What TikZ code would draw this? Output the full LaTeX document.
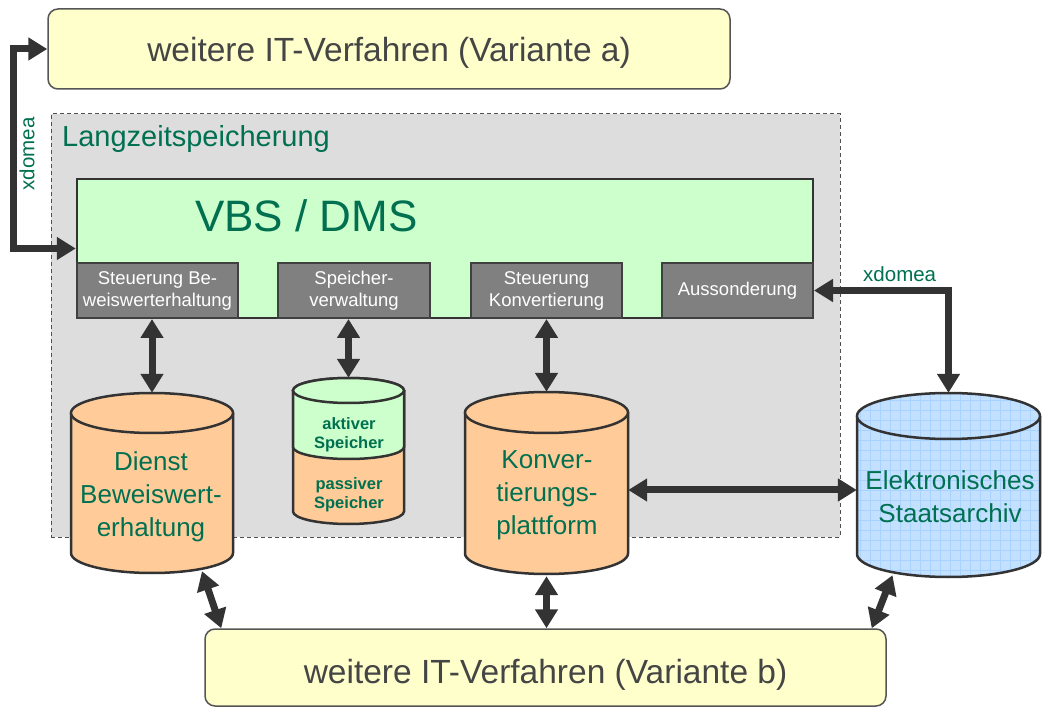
\documentclass[tikz,border=0pt]{standalone}
\usepackage{fontspec}
\setmainfont{Liberation Sans}
\usetikzlibrary{arrows.meta,calc}
\definecolor{txtgreen}{HTML}{007050}
\definecolor{txtgray}{HTML}{454545}
\definecolor{edgegray}{HTML}{555555}
\definecolor{yel}{HTML}{FFFFCC}
\definecolor{bggray}{HTML}{DDDDDD}
\definecolor{dashgray}{HTML}{505050}
\definecolor{vbsgreen}{HTML}{CCFFCC}
\definecolor{boxgray}{HTML}{808080}
\definecolor{boxedge}{HTML}{404040}
\definecolor{dark}{HTML}{333333}
\definecolor{peach}{HTML}{FFCC99}
\definecolor{skyblue}{HTML}{C4E0FF}
\definecolor{gridblue}{HTML}{A8D2FF}

% #1 x1, #2 x2, #3 ytop, #4 ybot, #5 ry, #6 fill colour
\newcommand\mydrawcyl[6]{%
  \pgfmathsetmacro\cylcx{(#1+#2)/2}%
  \pgfmathsetmacro\cylrx{(#2-#1)/2}%
  \fill[#6] (#1,#3+#5) -- (#1,#4-#5) arc[start angle=180,end angle=0,x radius=\cylrx,y radius=#5] -- (#2,#3+#5) -- cycle;
  \draw[cylline] (#1,#3+#5) -- (#1,#4-#5) arc[start angle=180,end angle=0,x radius=\cylrx,y radius=#5] -- (#2,#3+#5);
  \draw[cylline,fill=#6] (\cylcx,#3+#5) ellipse[x radius=\cylrx,y radius=#5];
}

\begin{document}
\begin{tikzpicture}[x=1pt,y=-1pt,
  yelbox/.style={draw=edgegray, line width=1.5pt, fill=yel, rounded corners=10pt, inner sep=0pt},
  subbox/.style={draw=boxedge, line width=2pt, fill=boxgray, text=white, inner sep=0pt,
    minimum height=55pt, align=center, font=\fontsize{18.5}{22}\selectfont},
  cylline/.style={draw=dark, line width=2.5pt},
  cylnode/.style={inner sep=0pt, draw=none},
  darr/.style={draw=dark, line width=7pt,
    arrows={Triangle[width=22pt 0,length=19pt 0]-Triangle[width=22pt 0,length=19pt 0]}},
  greentext/.style={text=txtgreen, align=center, font=\fontsize{26}{33}\selectfont},
  smalltext/.style={text=txtgreen, align=center, font=\bfseries\fontsize{16.5}{19}\selectfont},
  bigtext/.style={text=txtgray, font=\fontsize{33.5}{40}\selectfont},
  xdtext/.style={text=txtgreen, font=\fontsize{20.5}{24}\selectfont},
]
\useasboundingbox (0,0) rectangle (1042,708);

% top box
\node[yelbox, minimum width=682pt, minimum height=80pt] (A) at (389,49) {};
\node[bigtext, anchor=base] (tA) at (389,62) {weitere IT-Verfahren (Variante a)};

% Langzeitspeicherung
\node[draw=dashgray, line width=1pt, dash pattern=on 4pt off 3pt, fill=bggray,
  minimum width=789pt, minimum height=423pt, inner sep=0pt] (lz) at (445.5,325.5) {};
\node[anchor=base west, inner sep=0pt, text=txtgreen, font=\fontsize{29}{34}\selectfont] (tlz) at (62,147) {Langzeitspeicherung};

% VBS / DMS
\node[draw=dark, line width=2.5pt, fill=vbsgreen, minimum width=736pt, minimum height=139pt, inner sep=0pt] (vbs) at (445,248.5) {};
\node[anchor=base, text=txtgreen, font=\fontsize{44}{50}\selectfont] (tvbs) at (306.5,231.5) {VBS / DMS};

\node[subbox, minimum width=161pt] (s1) at (157.5,290.5) {Steuerung Be-\\weiswerterhaltung};
\node[subbox, minimum width=152pt] (s2) at (354,290.5) {Speicher-\\verwaltung};
\node[subbox, minimum width=151pt] (s3) at (546.5,290.5) {Steuerung\\Konvertierung};
\node[subbox, minimum width=151pt] (s4) at (737.5,290.5) {Aussonderung};

% cylinders
\mydrawcyl{71}{233}{393}{573}{20}{peach}
\node[cylnode, minimum width=162pt, minimum height=180pt] (dienst) at (152,483) {};
\node[greentext] (tdienst) at (151,497) {Dienst\\Beweiswert-\\erhaltung};

\mydrawcyl{465}{628}{392}{574}{20.5}{peach}
\node[cylnode, minimum width=163pt, minimum height=182pt] (konv) at (546.5,483) {};
\node[greentext] (tkonv) at (547,495) {Konver-\\tierungs-\\plattform};

% small two-part cylinder
\mydrawcyl{293}{404}{378}{524}{12.5}{peach}
\fill[vbsgreen] (293,390.5) -- (293,447) arc[start angle=180,end angle=0,x radius=55.5,y radius=12] -- (404,390.5) -- cycle;
\draw[cylline] (293,390.5) -- (293,447) arc[start angle=180,end angle=0,x radius=55.5,y radius=12] -- (404,390.5);
\draw[cylline,fill=vbsgreen] (348.5,390.5) ellipse[x radius=55.5,y radius=12.5];
\node[cylnode, minimum width=111pt, minimum height=146pt] (small) at (348.5,451) {};
\node[smalltext] (tsa) at (349,435) {aktiver\\Speicher};
\node[smalltext] (tsp) at (349,495) {passiver\\Speicher};

% Staatsarchiv cylinder with grid
\fill[skyblue] (857,416) -- (857,554) arc[start angle=180,end angle=0,x radius=91.5,y radius=23] -- (1040,416) -- cycle;
\begin{scope}
  \clip (857,416) -- (857,554) arc[start angle=180,end angle=0,x radius=91.5,y radius=23] -- (1040,416) -- cycle;
  \draw[gridblue, line width=0.5pt, xstep=10pt, ystep=10pt] (850,385) grid (1045,585);
\end{scope}
\draw[cylline] (857,416) -- (857,554) arc[start angle=180,end angle=0,x radius=91.5,y radius=23] -- (1040,416);
\fill[skyblue] (948.5,416) ellipse[x radius=91.5,y radius=23];
\begin{scope}
  \clip (948.5,416) ellipse[x radius=91.5,y radius=23];
  \draw[gridblue, line width=0.5pt, xstep=10pt, ystep=10pt] (850,385) grid (1045,445);
\end{scope}
\draw[cylline] (948.5,416) ellipse[x radius=91.5,y radius=23];
\node[cylnode, minimum width=183pt, minimum height=184pt] (arch) at (948.5,485) {};
\node[greentext] (tarch) at (950,497) {Elektronisches\\Staatsarchiv};

% bottom box
\node[yelbox, minimum width=681pt, minimum height=77pt] (B) at (545.5,667.5) {};
\node[bigtext, anchor=base] (tB) at (545.5,683) {weitere IT-Verfahren (Variante b)};

% xdomea labels
\node[xdtext, rotate=90] (xd1) at (27,154) {xdomea};
\node[xdtext, anchor=base west, inner sep=0pt] (xd2) at (863,282) {xdomea};

% connectors
\coordinate (lx) at (13,0);
\coordinate (yline) at (0,490);
\draw[darr] (A.west) -- (A.west -| lx) -- (vbs.west -| lx) -- (vbs.west);
\draw[darr] (s4.east) -- (s4.east -| arch.north) -- (arch.north);
\draw[darr] (dienst.north |- s1.south) -- (dienst.north);
\draw[darr] (small.north |- s2.south) -- (small.north);
\draw[darr] (konv.north |- s3.south) -- (konv.north);
\draw[darr] (konv.east |- yline) -- (arch.west |- yline);
\draw[darr] ([xshift=50pt,yshift=2pt]dienst.south) -- ([xshift=17pt]B.north west);
\draw[darr] ([yshift=-2pt]konv.south) -- (konv.south |- B.north);
\draw[darr] ([xshift=-56pt,yshift=2pt]arch.south) -- ([xshift=-15pt]B.north east);
\end{tikzpicture}
\end{document}
